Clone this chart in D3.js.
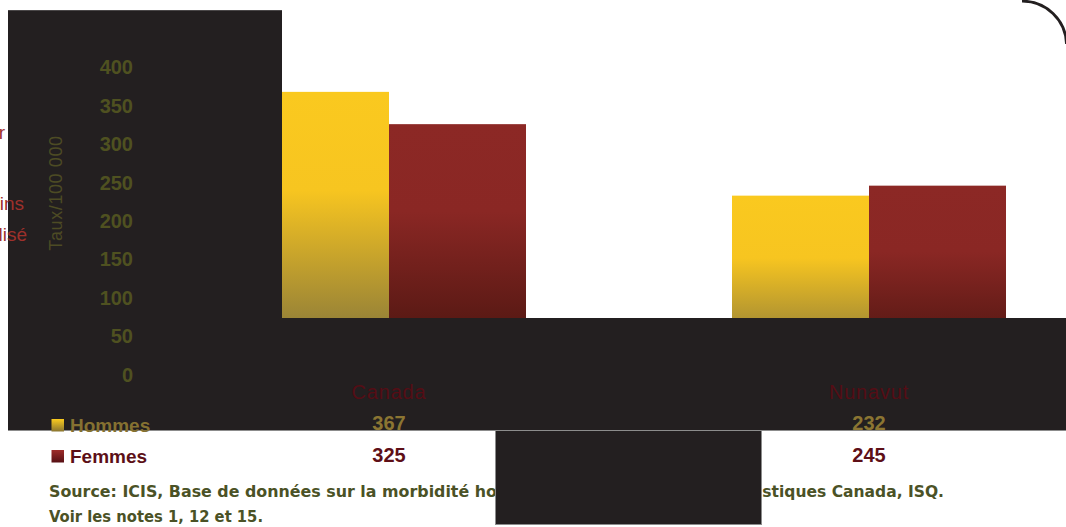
<!DOCTYPE html>
<html>
<head>
<meta charset="utf-8">
<script src="https://cdn.jsdelivr.net/npm/d3@7"></script>
<style>
  html, body { margin: 0; padding: 0; background: #ffffff; }
  svg { display: block; }
</style>
</head>
<body>
<svg id="chart" width="1066" height="527"></svg>
<script>
// ---- data ----
const categories = ["Canada", "Nunavut"];
const seriesNames = ["Hommes", "Femmes"];
const hommes = [367, 232];
const femmes = [325, 245];
const yTicks = [0, 50, 100, 150, 200, 250, 300, 350, 400];
const yTitle = "Taux/100 000";
const sideFragments = ["r", "ins", "lisé"];
// source line 1 split where the dark block covers it
const sourceParts = [
  "Source: ICIS, Base de données sur la morbidité ho",
  "spitalière, Stat",
  "istiques Canada, ISQ."
];
const sourceLine2 = "Voir les notes 1, 12 et 15.";

const W = 1066, H = 527;
const DARK = "#231f20";
const FONT = "'Liberation Sans', Arial, sans-serif";
const SRCFONT = "'DejaVu Sans', sans-serif";

const svg = d3.select("#chart");
const defs = svg.append("defs");

function grad(id, stops) {
  const g = defs.append("linearGradient").attr("id", id)
    .attr("x1", 0).attr("y1", 0).attr("x2", 0).attr("y2", 1);
  stops.forEach(s => g.append("stop").attr("offset", s[0]).attr("stop-color", s[1]));
}
grad("gH", [[0, "#fac91f"], [0.35, "#f7c520"], [1, "#726840"]]);
grad("gF", [[0, "#8c2825"], [0.35, "#8a2724"], [1, "#43130d"]]);
grad("gHl", [[0, "#fbcb1e"], [1, "#8a7530"]]);
grad("gFl", [[0, "#9e2c2a"], [1, "#561014"]]);
const fills = { Hommes: "url(#gH)", Femmes: "url(#gF)" };
const legendFills = { Hommes: "url(#gHl)", Femmes: "url(#gFl)" };

// ---- scales ----
const y = d3.scaleLinear().domain([0, 400]).range([374, 66.5]);
const x0 = d3.scaleBand().domain(categories).range([252, 1006]).paddingInner(206 / 480);
const x1 = d3.scaleBand().domain(seriesNames).range([0, x0.bandwidth()]);

const rows = categories.map((c, i) => ({ cat: c, Hommes: hommes[i], Femmes: femmes[i] }));

// ---- bars ----
const gBars = svg.append("g");
rows.forEach(r => {
  seriesNames.forEach(s => {
    gBars.append("rect")
      .attr("x", x0(r.cat) + x1(s))
      .attr("y", y(r[s]))
      .attr("width", x1.bandwidth())
      .attr("height", y(0) - y(r[s]))
      .attr("fill", fills[s]);
  });
});

// ---- overlay dark blocks ----
svg.append("rect").attr("x", 282).attr("y", 318).attr("width", W - 282).attr("height", 112).attr("fill", DARK);
svg.append("rect").attr("x", 8).attr("y", 10).attr("width", 274).attr("height", 420).attr("fill", DARK);
svg.append("line").attr("x1", 8).attr("x2", 282).attr("y1", 10.5).attr("y2", 10.5).attr("stroke", "#4a4748").attr("stroke-width", 1);
svg.append("line").attr("x1", 8).attr("x2", 495).attr("y1", 430.5).attr("y2", 430.5).attr("stroke", "#8c8c8c").attr("stroke-width", 1);
svg.append("line").attr("x1", 762).attr("x2", W).attr("y1", 430.5).attr("y2", 430.5).attr("stroke", "#8c8c8c").attr("stroke-width", 1);

// frame corner (top-right only)
svg.append("path")
  .attr("d", "M1022,1.2 A44,44 0 0 1 1066.5,44")
  .attr("fill", "none").attr("stroke", DARK).attr("stroke-width", 2.8);

// ---- side fragments ----
const fragY = [139, 210, 241];
const fragX = [5, 24, 27];
sideFragments.forEach((t, i) => {
  svg.append("text").attr("x", fragX[i]).attr("y", fragY[i])
    .attr("text-anchor", "end").attr("font-family", FONT).attr("font-size", 19)
    .attr("fill", "#9e302b").text(t);
});

// ---- y axis ----
const yAxis = d3.axisLeft(y).tickValues(yTicks).tickSize(0).tickPadding(0);
const gy = svg.append("g").attr("transform", "translate(133,0)").call(yAxis);
gy.select(".domain").remove();
gy.selectAll("text")
  .attr("font-family", FONT).attr("font-size", 20).attr("font-weight", "bold")
  .attr("fill", "#4f5120").attr("dy", "0.36em");

svg.append("text")
  .attr("transform", "translate(62,193) rotate(-90)")
  .attr("text-anchor", "middle").attr("font-family", FONT).attr("font-size", 18)
  .attr("letter-spacing", 0.6)
  .attr("fill", "#4d4b24").text(yTitle);

// ---- category labels ----
categories.forEach(c => {
  svg.append("text").attr("x", x0(c) + x0.bandwidth() / 2).attr("y", 399)
    .attr("text-anchor", "middle").attr("font-family", FONT).attr("font-size", 20)
    .attr("letter-spacing", 0.8).attr("fill", "#550d15").text(c);
});

// ---- data table ----
const tableColors = { Hommes: "#8b7532", Femmes: "#5e0f17" };
const tableY = { Hommes: 430, Femmes: 462 };
seriesNames.forEach(s => {
  rows.forEach(r => {
    svg.append("text").attr("x", x0(r.cat) + x0.bandwidth() / 2).attr("y", tableY[s])
      .attr("text-anchor", "middle").attr("font-family", FONT).attr("font-size", 20)
      .attr("font-weight", "bold").attr("fill", tableColors[s]).text(r[s]);
  });
});

// ---- legend ----
const legY = { Hommes: 419, Femmes: 450 };
const legTextColors = { Hommes: "#857131", Femmes: "#5c0f17" };
seriesNames.forEach(s => {
  svg.append("rect").attr("x", 51.5).attr("y", legY[s]).attr("width", 12.5).attr("height", 12.5)
    .attr("fill", legendFills[s]);
  svg.append("text").attr("x", 70).attr("y", legY[s] + 12.5).attr("font-family", FONT)
    .attr("font-size", 19).attr("font-weight", "bold").attr("fill", legTextColors[s]).text(s);
});

// ---- source ----
const srcColor = "#4b5226";
const probe = svg.append("text").attr("font-family", SRCFONT).attr("font-size", 15)
  .attr("font-weight", "bold").text(sourceParts[0]);
const Lp = probe.node().getComputedTextLength();
probe.remove();
let fs = Math.max(12, Math.min(18, 15 * 448 / Lp));

const src1 = svg.append("text").attr("y", 497).attr("font-family", SRCFONT)
  .attr("font-size", fs.toFixed(2)).attr("font-weight", "bold").attr("fill", srcColor);
src1.append("tspan").attr("x", 49).text(sourceParts[0]);
src1.append("tspan").text(sourceParts[1]);
src1.append("tspan").attr("x", 757).attr("textLength", 187).attr("lengthAdjust", "spacingAndGlyphs")
  .text(sourceParts[2]);

svg.append("text").attr("x", 49).attr("y", 522).attr("font-family", SRCFONT)
  .attr("font-size", fs.toFixed(2)).attr("font-weight", "bold").attr("fill", srcColor)
  .attr("textLength", 214).attr("lengthAdjust", "spacingAndGlyphs").text(sourceLine2);

// ---- bottom dark block (covers part of source) ----
svg.append("rect").attr("x", 495.5).attr("y", 430.5).attr("width", 266).attr("height", 94)
  .attr("fill", DARK).attr("stroke", "#8c8c8c").attr("stroke-width", 1);
</script>
</body>
</html>
